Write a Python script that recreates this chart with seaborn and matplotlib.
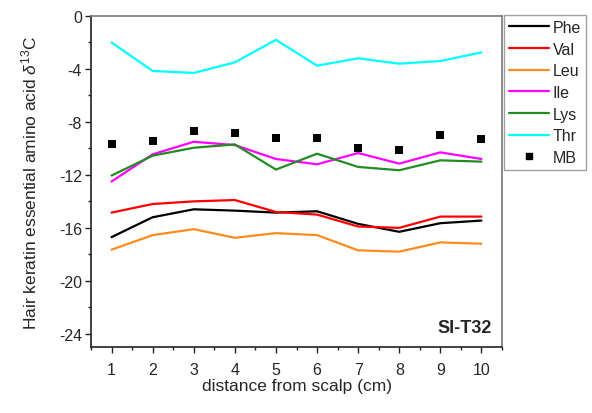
import matplotlib
matplotlib.use("Agg")
import matplotlib.pyplot as plt
import seaborn as sns
import pandas as pd
from matplotlib.ticker import MultipleLocator
from matplotlib.lines import Line2D

distance = [1, 2, 3, 4, 5, 6, 7, 8, 9, 10]
phe = [-16.7, -15.2, -14.6, -14.7, -14.85, -14.75, -15.7, -16.3, -15.65, -15.45]
val = [-14.85, -14.2, -14.0, -13.9, -14.8, -15.0, -15.9, -16.0, -15.15, -15.15]
leu = [-17.65, -16.55, -16.1, -16.75, -16.4, -16.55, -17.7, -17.8, -17.1, -17.2]
ile = [-12.5, -10.45, -9.5, -9.75, -10.8, -11.2, -10.35, -11.15, -10.3, -10.8]
lys = [-12.05, -10.55, -9.95, -9.7, -11.6, -10.4, -11.4, -11.65, -10.9, -11.0]
thr = [-2.0, -4.15, -4.3, -3.5, -1.8, -3.75, -3.2, -3.6, -3.4, -2.75]
mb = [-9.7, -9.45, -8.7, -8.8, -9.2, -9.2, -9.95, -10.15, -9.0, -9.3]

series_names = ["Phe", "Val", "Leu", "Ile", "Lys", "Thr"]
series_values = [phe, val, leu, ile, lys, thr]
colors = ["#000000", "#FF0000", "#FF8C1A", "#FF00FF", "#228B22", "#00FFFF"]

rows = []
for name, vals in zip(series_names, series_values):
    for d, v in zip(distance, vals):
        rows.append({"distance": d, "value": v, "aa": name})
df = pd.DataFrame(rows)
df_mb = pd.DataFrame({"distance": distance, "value": mb})

sns.set_theme(style="ticks")
plt.rcParams["font.family"] = ["Liberation Sans", "DejaVu Sans"]
plt.rcParams["mathtext.fontset"] = "custom"
plt.rcParams["mathtext.it"] = "Liberation Sans:italic"
plt.rcParams["mathtext.rm"] = "Liberation Sans"
plt.rcParams["mathtext.sf"] = "Liberation Sans"

fig = plt.figure(figsize=(5.92, 4.14), dpi=100)
ax = fig.add_axes([91/592, 1-348/414, 411/592, 331/414])

sns.lineplot(data=df, x="distance", y="value", hue="aa", hue_order=series_names,
             palette=colors, linewidth=1.6, ax=ax, legend=False)
sns.scatterplot(data=df_mb, x="distance", y="value", marker="s", color="black",
                s=30, edgecolor="black", linewidth=0, ax=ax, legend=False, zorder=5)

ax.set_xlim(0.5, 10.5)
ax.set_ylim(-25, 0)
ax.xaxis.set_major_locator(MultipleLocator(1))
ax.xaxis.set_minor_locator(MultipleLocator(0.5))
ax.yaxis.set_major_locator(MultipleLocator(4))
ax.yaxis.set_minor_locator(MultipleLocator(2))
ax.set_yticks([0, -4, -8, -12, -16, -20, -24])
ax.set_yticklabels(["0", "-4", "-8", "-12", "-16", "-20", "-24"])
ax.tick_params(axis="both", which="major", direction="out", length=4.5, width=1,
               labelsize=11.5, color="#222222")
ax.tick_params(axis="x", which="major", pad=6)
ax.tick_params(axis="y", which="major", pad=2)
ax.tick_params(axis="both", which="minor", direction="out", length=2.5, width=1,
               color="#222222")
for s in ["left", "bottom"]:
    ax.spines[s].set_color("#222222")
    ax.spines[s].set_linewidth(1.2)
for s in ["top", "right"]:
    ax.spines[s].set_color("#777777")
    ax.spines[s].set_linewidth(1.2)

ax.set_xlabel("distance from scalp (cm)", fontsize=12.5, labelpad=1)
ax.set_ylabel(r"Hair keratin essential amino acid $\mathit{\delta}^{13}$C", fontsize=12.5,
              labelpad=14)

ax.text(0.976, 0.033, "SI-T32", transform=ax.transAxes, ha="right", va="bottom",
        fontsize=13, fontweight="bold")

handles = [Line2D([0], [0], color=c, lw=1.6) for c in colors]
handles.append(Line2D([0], [0], color="black", marker="s", linestyle="none", markersize=5))
labels = series_names + ["MB"]
leg = ax.legend(handles, labels, loc="upper left", bbox_to_anchor=(1.005, 1.003),
                frameon=True, fontsize=11.5, handlelength=2.5, handletextpad=0.25,
                labelspacing=0.42, borderpad=0.3, borderaxespad=0, fancybox=False)
leg.get_frame().set_edgecolor("#888888")
leg.get_frame().set_linewidth(1.0)

fig.savefig("out.png", dpi=100)
